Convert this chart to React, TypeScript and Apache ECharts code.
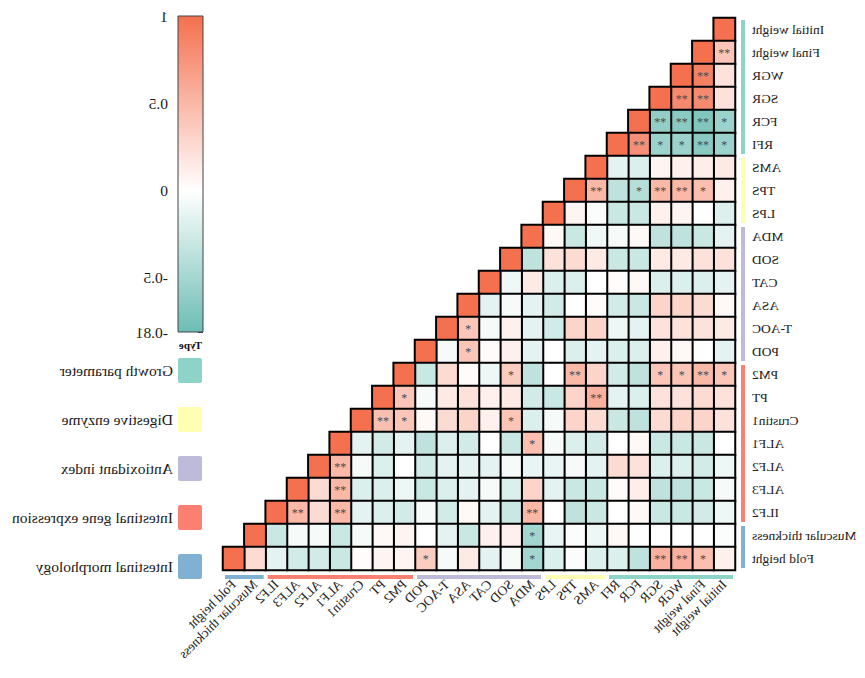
import React, { useEffect, useRef } from 'react';
import * as echarts from 'echarts';

const variables = [
  'Initial weight', 'Final weight', 'WGR', 'SGR', 'FCR', 'RFI', 'AMS', 'TPS', 'LPS',
  'MDA', 'SOD', 'CAT', 'ASA', 'T-AOC', 'POD', 'PM2', 'PT', 'Crustin1', 'ALF1', 'ALF2',
  'ALF3', 'ILF2', 'Muscular thickness', 'Fold height',
];

// lower triangle: row r holds correlations with variables 0..r
const corrRows: number[][] = [
  [1],
  [0.4, 1],
  [0.2, 0.88, 1],
  [0.2, 0.82, 0.82, 1],
  [-0.55, -0.7, -0.65, -0.6, 1],
  [-0.55, -0.65, -0.55, -0.55, 0.78, 1],
  [0.15, 0.12, 0.1, 0.08, -0.2, -0.15, 1],
  [0.1, 0.45, 0.5, 0.5, -0.4, -0.35, 0.5, 1],
  [-0.18, 0, 0.08, 0.1, -0.3, -0.3, -0.03, 0.08, 1],
  [-0.15, -0.3, -0.35, -0.35, 0.05, -0.05, -0.08, -0.3, 0.05, 1],
  [0.2, 0.2, 0.15, 0.15, -0.3, -0.3, 0.15, 0.25, 0.2, -0.35, 1],
  [-0.15, -0.2, -0.2, -0.2, 0.05, 0.02, 0, -0.2, -0.2, 0.15, -0.08, 1],
  [0.05, 0.25, 0.3, 0.3, -0.3, -0.25, 0.03, 0, -0.25, -0.15, -0.05, -0.15, 1],
  [0.15, 0.2, 0.2, 0.2, -0.15, -0.1, 0.3, 0.3, -0.25, -0.15, 0.1, -0.05, 0.4, 1],
  [-0.15, 0, 0.05, 0.1, -0.2, -0.2, -0.15, -0.2, 0, -0.15, 0.1, 0.03, 0.4, -0.05, 1],
  [0.4, 0.5, 0.4, 0.4, -0.35, -0.25, 0.3, 0.5, 0, -0.35, 0.35, -0.1, 0.03, 0.25, -0.3, 1],
  [0.2, 0.25, 0.2, 0.2, -0.2, -0.15, 0.55, 0.3, -0.3, -0.25, 0.15, 0.1, 0.2, 0.15, -0.05, 0.4, 1],
  [0.2, 0.3, 0.3, 0.25, -0.35, -0.3, 0.25, 0.3, -0.05, -0.2, 0.4, 0.1, 0.3, 0.25, 0.05, 0.4, 0.45, 1],
  [0, -0.3, -0.3, -0.3, 0.05, 0, -0.25, -0.2, -0.05, 0.45, -0.3, 0, -0.25, -0.2, -0.35, -0.15, -0.25, -0.15, 1],
  [-0.1, -0.25, -0.2, -0.2, 0.2, 0.25, -0.15, -0.05, -0.12, -0.12, -0.05, -0.15, -0.15, -0.15, -0.25, 0, -0.2, -0.05, 0.5, 1],
  [-0.05, -0.3, -0.35, -0.35, 0.12, 0.03, -0.3, -0.3, -0.15, 0.3, -0.2, -0.05, -0.15, -0.2, -0.3, -0.1, -0.2, -0.2, 0.5, 0.25, 1],
  [-0.1, -0.25, -0.3, -0.3, 0.05, 0, -0.3, -0.35, 0, 0.5, -0.3, -0.15, 0.05, -0.25, -0.05, -0.25, -0.2, -0.15, 0.5, 0.25, 0.5, 1],
  [-0.03, 0, 0, 0, 0, 0.05, -0.1, -0.03, -0.12, -0.5, 0.1, 0.1, -0.3, -0.15, 0, 0.08, 0.05, -0.05, -0.3, -0.05, -0.05, -0.3, 1],
  [0.1, 0.45, 0.55, 0.55, -0.35, -0.2, -0.2, -0.03, -0.2, -0.5, -0.05, -0.15, 0.15, -0.05, 0.35, 0.08, 0.08, 0.02, -0.3, -0.25, -0.25, -0.15, 0.25, 1],
];

// [row, column, mark]
const sigMarks: [number, number, string][] = [
  [1, 0, '**'],
  [2, 1, '**'],
  [3, 1, '**'], [3, 2, '**'],
  [4, 0, '*'], [4, 1, '**'], [4, 2, '**'], [4, 3, '**'],
  [5, 0, '*'], [5, 1, '**'], [5, 2, '*'], [5, 3, '*'], [5, 4, '**'],
  [7, 1, '*'], [7, 2, '**'], [7, 3, '**'], [7, 4, '*'], [7, 6, '**'],
  [13, 12, '*'],
  [14, 12, '*'],
  [15, 0, '*'], [15, 1, '**'], [15, 2, '*'], [15, 3, '*'], [15, 7, '**'], [15, 10, '*'],
  [16, 6, '**'], [16, 15, '*'],
  [17, 10, '*'], [17, 15, '*'], [17, 16, '**'],
  [18, 9, '*'],
  [19, 18, '**'],
  [20, 18, '**'],
  [21, 9, '**'], [21, 18, '**'], [21, 20, '**'],
  [22, 9, '*'],
  [23, 1, '*'], [23, 2, '**'], [23, 3, '**'], [23, 9, '*'], [23, 14, '*'],
];

const groupNames = [
  'Growth parameter', 'Digestive enzyme', 'Antioxidant index',
  'Intestinal gene expression', 'Intestinal morphology',
];
const groupRanges: [number, number][] = [[0, 5], [6, 8], [9, 14], [15, 21], [22, 23]];
const groupColors = ['#8DD3C7', '#FFFFB3', '#BEBADA', '#FB8072', '#80B1D3'];

const colorTicks = [1, 0.5, 0, -0.5, -0.81];
const corrMin = -0.81;
const corrMax = 1;

const NEG = [108, 189, 179];
const MID = [255, 255, 255];
const POS = [244, 112, 78];
function colorAt(v: number) {
  const t = v < 0 ? v / corrMin : v / corrMax;
  const end = v < 0 ? NEG : POS;
  const c = MID.map((m, i) => Math.round(m + (end[i] - m) * t));
  return `rgb(${c.join(',')})`;
}
const steps = Math.round((corrMax - corrMin) * 100);
const scaleColors = Array.from({ length: steps + 1 }, (_, i) => colorAt(corrMin + (i * (corrMax - corrMin)) / steps));

const FONT = '"Times New Roman", "Liberation Serif", serif';
const LEGEND_ICON = 'path://M2,0H22Q24,0 24,2V23Q24,25 22,25H2Q0,25 0,23V2Q0,0 2,0Z';

export default function App() {
  const ref = useRef<HTMLDivElement>(null);
  useEffect(() => {
    if (!ref.current) return;
    const chart = echarts.init(ref.current, null, { renderer: 'svg' });

    const heatData: number[][] = [];
    corrRows.forEach((row, r) => row.forEach((v, c) => heatData.push([c, r, v])));
    const sigLookup = new Map(sigMarks.map(([r, c, m]) => [r + '-' + c, m]));

    const groupSeries = groupNames.map((name, g) => ({
      type: 'custom',
      name,
      xAxisIndex: 0,
      yAxisIndex: 0,
      clip: false,
      silent: true,
      itemStyle: { color: groupColors[g] },
      data: [groupRanges[g]],
      renderItem: (params: any, api: any) => {
        const s = api.value(0);
        const e = api.value(1);
        const size = api.size([1, 1]);
        const cw = size[0];
        const ch = size[1];
        const p0 = api.coord([s, s]);
        const p1 = api.coord([e, e]);
        const left = api.coord([0, 0])[0] - cw / 2;
        const bottom = api.coord([0, variables.length - 1])[1] + ch / 2;
        const color = api.visual('color');
        return {
          type: 'group',
          children: [
            {
              type: 'rect',
              shape: { x: left - 10, y: p0[1] - ch / 2 + 2, width: 4, height: p1[1] - p0[1] + ch - 4 },
              style: { fill: color },
            },
            {
              type: 'rect',
              shape: { x: p0[0] - cw / 2 + 2, y: bottom + 5, width: p1[0] - p0[0] + cw - 4, height: 4 },
              style: { fill: color },
            },
          ],
        };
      },
    }));

    const option: any = {
      animation: false,
      backgroundColor: '#fff',
      title: {
        text: 'Type',
        left: 663,
        top: 339,
        padding: 0,
        textStyle: { fontSize: 11, fontWeight: 'bold', fontFamily: FONT, color: '#111' },
      },
      legend: {
        data: groupNames,
        orient: 'vertical',
        left: 663,
        top: 358,
        itemWidth: 24,
        itemHeight: 25,
        itemGap: 24,
        icon: LEGEND_ICON,
        selectedMode: false,
        padding: 0,
        textStyle: { fontSize: 15.5, fontFamily: FONT, color: '#1a1a1a' },
      },
      visualMap: {
        show: false,
        type: 'continuous',
        min: corrMin,
        max: corrMax,
        dimension: 2,
        seriesIndex: 0,
        inRange: { color: scaleColors },
      },
      grid: [
        { left: 130, top: 18, width: 512, height: 552 },
        { left: 662, top: 16, width: 25, height: 316 },
      ],
      xAxis: [
        {
          type: 'category',
          gridIndex: 0,
          data: variables,
          position: 'bottom',
          axisLine: { show: false },
          axisTick: { show: false },
          splitLine: { show: false },
          axisLabel: {
            interval: 0,
            rotate: -45,
            margin: 12,
            fontSize: 13.5,
            fontFamily: FONT,
            color: '#222',
          },
        },
        { type: 'value', gridIndex: 1, min: 0, max: 1, show: false },
      ],
      yAxis: [
        {
          type: 'category',
          gridIndex: 0,
          data: variables,
          inverse: true,
          axisLine: { show: false },
          axisTick: { show: false },
          splitLine: { show: false },
          axisLabel: {
            interval: 0,
            margin: 17,
            fontSize: 13.5,
            fontFamily: FONT,
            color: '#222',
          },
        },
        {
          type: 'value',
          gridIndex: 1,
          min: corrMin,
          max: corrMax,
          position: 'right',
          axisLine: { show: false },
          splitLine: { show: false },
          axisTick: {
            show: true,
            inside: false,
            length: 5,
            customValues: colorTicks,
            lineStyle: { color: '#333', width: 1 },
          },
          axisLabel: {
            customValues: colorTicks,
            margin: 10,
            fontSize: 15.5,
            fontFamily: FONT,
            color: '#1a1a1a',
            formatter: (v: number) => String(v),
          },
        },
      ],
      series: [
        {
          type: 'heatmap',
          xAxisIndex: 0,
          yAxisIndex: 0,
          data: heatData,
          itemStyle: { borderColor: '#000', borderWidth: 2 },
          label: {
            show: true,
            formatter: (p: any) => sigLookup.get(p.value[1] + '-' + p.value[0]) || '',
            color: '#4a4a4a',
            fontSize: 12,
            fontFamily: FONT,
          },
          emphasis: { disabled: true },
        },
        ...groupSeries,
        {
          type: 'custom',
          name: 'colorbar',
          xAxisIndex: 1,
          yAxisIndex: 1,
          silent: true,
          clip: false,
          data: [[0, 0]],
          renderItem: (params: any, api: any) => {
            const tl = api.coord([0, corrMax]);
            const br = api.coord([1, corrMin]);
            return {
              type: 'rect',
              shape: { x: tl[0], y: tl[1], width: br[0] - tl[0], height: br[1] - tl[1] },
              style: {
                fill: new echarts.graphic.LinearGradient(0, 0, 0, 1, [
                  { offset: 0, color: colorAt(corrMax) },
                  { offset: corrMax / (corrMax - corrMin), color: colorAt(0) },
                  { offset: 1, color: colorAt(corrMin) },
                ]),
                stroke: '#444',
                lineWidth: 1,
              },
            };
          },
        },
      ],
    };

    chart.setOption(option);
    return () => chart.dispose();
  }, []);

  return (
    <div
      ref={ref}
      style={{
        position: 'absolute',
        left: 0,
        top: 0,
        width: 865,
        height: 678,
        transform: 'scaleX(-1)',
      }}
    />
  );
}
